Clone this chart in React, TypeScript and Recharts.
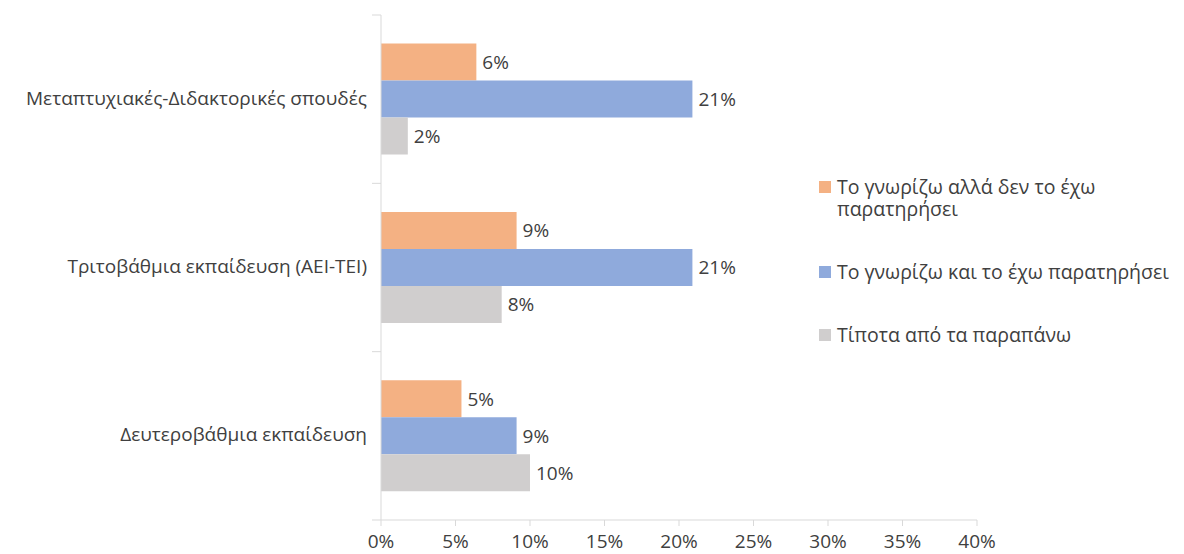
import { BarChart, Bar, XAxis, YAxis, LabelList, Legend } from 'recharts'

const categories = [
  'Μεταπτυχιακές-Διδακτορικές σπουδές',
  'Τριτοβάθμια εκπαίδευση (ΑΕΙ-ΤΕΙ)',
  'Δευτεροβάθμια εκπαίδευση',
]

const seriesNames = [
  'Το γνωρίζω αλλά δεν το έχω παρατηρήσει',
  'Το γνωρίζω και το έχω παρατηρήσει',
  'Τίποτα από τα παραπάνω',
]

// values in %
const knownNotSeen = [6.4, 9.1, 5.4]
const knownSeen = [20.9, 20.9, 9.1]
const noneOfThese = [1.8, 8.1, 10.0]

const xTicks = [0, 5, 10, 15, 20, 25, 30, 35, 40]

const COLORS = ['#F4B183', '#8FAADC', '#D0CECE']
const FONT = '"Open Sans", sans-serif'
const TEXT = '#404040'
const AXIS = '#D9D9D9'
const FS = 19

const W = 1184
const H = 554
const MARGIN = { top: 15, right: 207, bottom: 0, left: 0 }
const YAXIS_W = 381
const XAXIS_H = 34
const HALF_BAND = (H - MARGIN.top - MARGIN.bottom - XAXIS_H) / categories.length / 2

const data = categories.map((name, i) => ({
  name,
  a: knownNotSeen[i],
  b: knownSeen[i],
  c: noneOfThese[i],
}))

const CategoryTick = (props: any) => {
  const { y, payload, index } = props
  const ax = MARGIN.left + YAXIS_W
  return (
    <g>
      <line x1={ax - 9} x2={ax} y1={y - HALF_BAND} y2={y - HALF_BAND} stroke={AXIS} />
      {index === categories.length - 1 && (
        <line x1={ax - 9} x2={ax} y1={y + HALF_BAND} y2={y + HALF_BAND} stroke={AXIS} />
      )}
      <text x={ax - 14} y={y - 1} dy="0.35em" textAnchor="end" fill={TEXT} fontSize={FS} fontFamily={FONT}>
        {payload.value}
      </text>
    </g>
  )
}

const LegendBox = () => (
  <div style={{ fontFamily: FONT, fontSize: 19.5, color: TEXT, lineHeight: '22px' }}>
    {seriesNames.map((n, i) => (
      <div key={n} style={{ display: 'flex', alignItems: 'flex-start', marginBottom: 41 }}>
        <span
          style={{
            width: 12,
            height: 12,
            background: COLORS[i],
            marginTop: 5,
            marginRight: 6,
            flex: '0 0 auto',
          }}
        />
        <span style={{ maxWidth: 345 }}>{n}</span>
      </div>
    ))}
  </div>
)

const fmt = (v: any) => `${Math.round(Number(v))}%`

export default function App() {
  const keys = ['a', 'b', 'c']
  return (
    <div style={{ position: 'absolute', left: 0, top: 0, width: W, height: H, background: '#fff' }}>
      <BarChart
        width={W}
        height={H}
        data={data}
        layout="vertical"
        margin={MARGIN}
        barCategoryGap="17%"
        barGap={0}
      >
        <XAxis
          type="number"
          domain={[0, 40]}
          ticks={xTicks}
          tickFormatter={(v) => `${v}%`}
          height={XAXIS_H}
          stroke={AXIS}
          tickSize={6}
          tickMargin={9}
          tick={{ fill: TEXT, fontSize: FS, fontFamily: FONT }}
          interval={0}
        />
        <YAxis
          type="category"
          dataKey="name"
          width={YAXIS_W}
          stroke={AXIS}
          tickLine={false}
          tick={<CategoryTick />}
          interval={0}
        />
        <Legend
          layout="vertical"
          align="center"
          verticalAlign="middle"
          content={<LegendBox />}
          wrapperStyle={{ left: 819, top: 176, width: 360 }}
        />
        {keys.map((k, i) => (
          <Bar key={k} dataKey={k} name={seriesNames[i]} fill={COLORS[i]} isAnimationActive={false}>
            <LabelList
              dataKey={k}
              position="right"
              offset={6}
              formatter={fmt}
              fill={TEXT}
              fontSize={FS}
              fontFamily={FONT}
            />
          </Bar>
        ))}
      </BarChart>
    </div>
  )
}
